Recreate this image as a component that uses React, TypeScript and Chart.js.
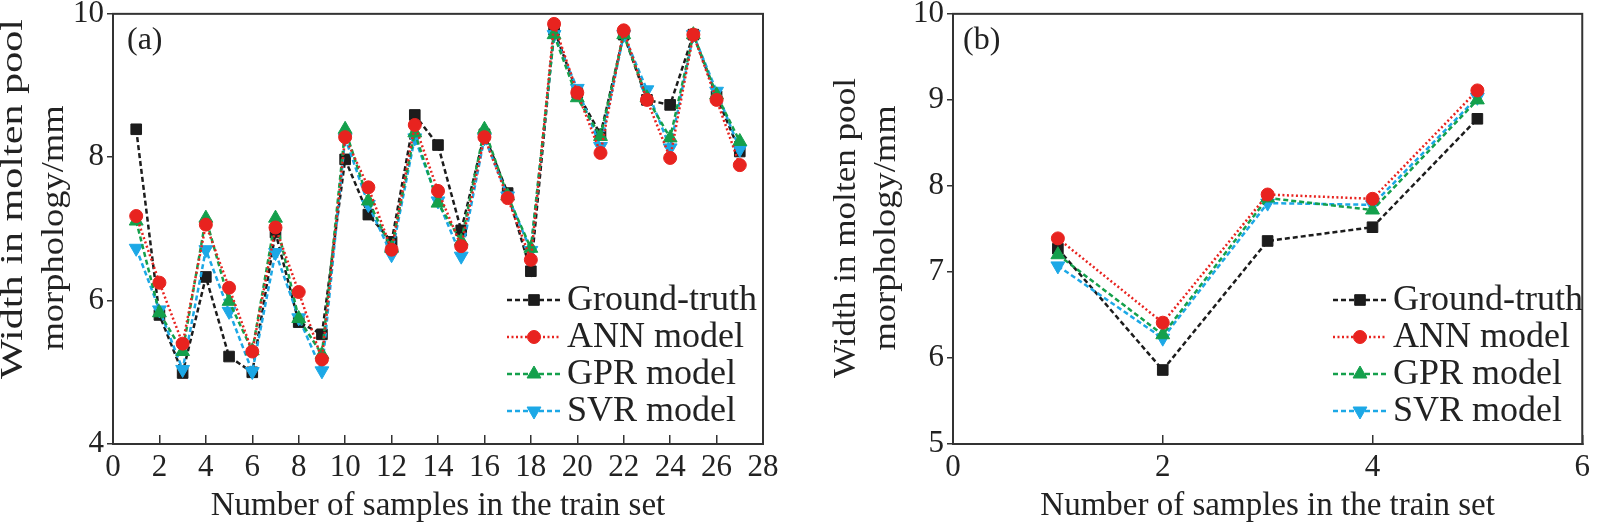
import { useEffect, useRef } from 'react'
import { Chart, registerables } from 'chart.js'

Chart.register(...registerables)

const SERIF = "'Liberation Serif', 'DejaVu Serif', serif"
const INK = '#222222'

// (a) train set
const samplesA = [1, 2, 3, 4, 5, 6, 7, 8, 9, 10, 11, 12, 13, 14, 15, 16, 17, 18, 19, 20, 21, 22, 23, 24, 25, 26, 27]
const truthA = [8.39, 5.8, 4.99, 6.33, 5.22, 5.0, 6.95, 5.7, 5.53, 7.97, 7.2, 6.82, 8.59, 8.17, 6.98, 8.32, 7.5, 6.41, 9.78, 8.9, 8.32, 9.71, 8.8, 8.73, 9.71, 8.85, 8.08]
const annA = [7.18, 6.25, 5.4, 7.06, 6.18, 5.29, 7.02, 6.12, 5.18, 8.28, 7.58, 6.71, 8.45, 7.53, 6.76, 8.28, 7.43, 6.57, 9.86, 8.9, 8.06, 9.77, 8.8, 7.99, 9.71, 8.8, 7.89]
const gprA = [7.11, 5.83, 5.29, 7.15, 5.99, 5.3, 7.15, 5.75, 5.25, 8.39, 7.39, 6.73, 8.34, 7.36, 6.83, 8.39, 7.46, 6.73, 9.71, 8.83, 8.29, 9.71, 8.83, 8.27, 9.71, 8.87, 8.22]
const svrA = [6.73, 5.87, 5.04, 6.71, 5.85, 5.01, 6.67, 5.76, 5.02, 8.27, 7.34, 6.64, 8.27, 7.39, 6.62, 8.27, 7.46, 6.7, 9.71, 8.96, 8.15, 9.71, 8.94, 8.13, 9.71, 8.92, 8.11]

// (b)
const samplesB = [1, 2, 3, 4, 5]
const truthB = [7.27, 5.86, 7.36, 7.52, 8.78]
const annB = [7.39, 6.41, 7.9, 7.85, 9.11]
const gprB = [7.2, 6.27, 7.86, 7.72, 9.0]
const svrB = [7.07, 6.23, 7.8, 7.78, 9.03]

const seriesNames = ['Ground-truth', 'ANN model', 'GPR model', 'SVR model']

const styles = [
  { color: '#1c1c1c', dash: [5, 3], point: 'rect', rotation: 0, radius: 7.5, order: 3 },
  { color: '#e8231f', dash: [2, 2.5], point: 'circle', rotation: 0, radius: 6.5, order: 0 },
  { color: '#14a04c', dash: [5, 3], point: 'triangle', rotation: 0, radius: 8, order: 1 },
  { color: '#1ca8e6', dash: [5, 3], point: 'triangle', rotation: 180, radius: 8, order: 2 },
]

interface PanelProps {
  tag: string
  xs: number[]
  series: number[][]
  xMax: number
  yMin: number
  yMax: number
  yStep: number
  width: number
  left: number
  padRight: number
  titleLines: { text: string; baseX: number; midY: number; len: number }[]
  legendX: number
  tagX: number
}

function drawMarker(ctx: CanvasRenderingContext2D, style: string, r: number, rot: number, x: number, y: number) {
  ctx.save()
  ctx.translate(x, y)
  ctx.rotate((rot * Math.PI) / 180)
  ctx.beginPath()
  if (style === 'rect') {
    const s = r * Math.SQRT1_2
    ctx.rect(-s, -s, 2 * s, 2 * s)
  } else if (style === 'circle') {
    ctx.arc(0, 0, r, 0, Math.PI * 2)
  } else {
    ctx.moveTo(0, -r)
    ctx.lineTo(r * Math.sin(Math.PI / 3), r * 0.5)
    ctx.lineTo(-r * Math.sin(Math.PI / 3), r * 0.5)
    ctx.closePath()
  }
  ctx.fill()
  ctx.stroke()
  ctx.restore()
}

function Panel(p: PanelProps) {
  const canvasRef = useRef<HTMLCanvasElement>(null)
  const chartRef = useRef<Chart | null>(null)

  useEffect(() => {
    if (!canvasRef.current) return
    if (chartRef.current) chartRef.current.destroy()

    const decor = {
      id: 'decor',
      afterDraw(chart: any) {
        const { ctx, chartArea: a } = chart
        ctx.save()
        // frame
        ctx.strokeStyle = '#333'
        ctx.lineWidth = 2
        ctx.setLineDash([])
        ctx.strokeRect(a.left, a.top, a.right - a.left, a.bottom - a.top)

        ctx.fillStyle = INK
        // y title, stretched along its length
        ctx.font = `31px ${SERIF}`
        p.titleLines.forEach((t) => {
          ctx.save()
          ctx.translate(t.baseX, t.midY)
          ctx.rotate(-Math.PI / 2)
          const w = ctx.measureText(t.text).width
          ctx.scale(t.len / w, 1)
          ctx.textAlign = 'center'
          ctx.textBaseline = 'alphabetic'
          ctx.fillText(t.text, 0, 0)
          ctx.restore()
        })

        // panel tag
        ctx.font = `32px ${SERIF}`
        ctx.textAlign = 'left'
        ctx.textBaseline = 'middle'
        ctx.fillText(p.tag, p.tagX, 41)

        // legend
        const rows = [300, 337, 374, 411]
        chart.data.datasets.forEach((ds: any, i: number) => {
          const y = rows[i]
          const s = styles[i]
          ctx.strokeStyle = s.color
          ctx.lineWidth = 2.5
          ctx.setLineDash(s.dash)
          ctx.beginPath()
          ctx.moveTo(p.legendX, y)
          ctx.lineTo(p.legendX + 53, y)
          ctx.stroke()
          ctx.setLineDash([])
          ctx.fillStyle = s.color
          ctx.strokeStyle = s.color
          ctx.lineWidth = 1
          drawMarker(ctx, s.point, s.radius, s.rotation, p.legendX + 27, y)
          ctx.fillStyle = INK
          ctx.font = `36px ${SERIF}`
          ctx.textAlign = 'left'
          ctx.textBaseline = 'middle'
          ctx.fillText(ds.label, p.legendX + 60, y + 1)
        })
        ctx.restore()
      },
    }

    chartRef.current = new Chart(canvasRef.current, {
      type: 'line',
      data: {
        datasets: p.series.map((vals, i) => ({
          label: seriesNames[i],
          data: vals.map((v, j) => ({ x: p.xs[j], y: v })),
          borderColor: styles[i].color,
          backgroundColor: styles[i].color,
          borderWidth: 2.5,
          borderDash: styles[i].dash,
          pointStyle: styles[i].point as any,
          pointRotation: styles[i].rotation,
          pointRadius: styles[i].radius,
          pointBorderWidth: 1,
          tension: 0,
          order: styles[i].order,
        })),
      },
      options: {
        animation: false,
        responsive: false,
        layout: { padding: { left: 0, top: 12, right: p.padRight, bottom: 0 } },
        plugins: { legend: { display: false }, tooltip: { enabled: false } },
        scales: {
          x: {
            type: 'linear',
            min: 0,
            max: p.xMax,
            afterFit: (s: any) => {
              s.height = 81
            },
            border: { display: true, color: '#333', width: 2 },
            grid: { drawOnChartArea: false, tickLength: -9, color: '#333', lineWidth: 1.5 },
            ticks: {
              stepSize: 2,
              padding: 20,
              color: INK,
              maxRotation: 0,
              font: { family: SERIF, size: 31, lineHeight: 0.8 },
            },
            title: {
              display: true,
              text: 'Number of samples in the train set',
              color: INK,
              font: { family: SERIF, size: 33, lineHeight: 0.8 },
              padding: { top: 0, bottom: 5 },
            },
          },
          y: {
            min: p.yMin,
            max: p.yMax,
            afterFit: (s: any) => {
              s.width = p.left
            },
            border: { display: true, color: '#333', width: 2 },
            grid: { drawOnChartArea: false, tickLength: 6, color: '#333', lineWidth: 1.5 },
            ticks: {
              stepSize: p.yStep,
              padding: 3,
              color: INK,
              font: { family: SERIF, size: 31, lineHeight: 0.7 },
            },
          },
        },
      },
      plugins: [decor],
    })

    return () => {
      if (chartRef.current) chartRef.current.destroy()
    }
  }, [p])

  return (
    <div style={{ width: p.width, height: 525 }}>
      <canvas ref={canvasRef} width={p.width} height={525} style={{ width: p.width, height: 525 }}></canvas>
    </div>
  )
}

const panelA: PanelProps = {
  tag: '(a)',
  xs: samplesA,
  series: [truthA, annA, gprA, svrA],
  xMax: 28,
  yMin: 4,
  yMax: 10,
  yStep: 2,
  width: 800,
  left: 113,
  padRight: 37,
  titleLines: [
    { text: 'Width in molten pool', baseX: 22, midY: 199, len: 360 },
    { text: 'morphology/mm', baseX: 63, midY: 228, len: 245 },
  ],
  legendX: 507,
  tagX: 127,
}

const panelB: PanelProps = {
  tag: '(b)',
  xs: samplesB,
  series: [truthB, annB, gprB, svrB],
  xMax: 6,
  yMin: 5,
  yMax: 10,
  yStep: 1,
  width: 810,
  left: 153,
  padRight: 8,
  titleLines: [
    { text: 'Width in molten pool', baseX: 55, midY: 228, len: 300 },
    { text: 'morphology/mm', baseX: 95, midY: 228, len: 245 },
  ],
  legendX: 533,
  tagX: 163,
}

export default function App() {
  return (
    <div style={{ position: 'absolute', left: 0, top: 0, width: 1610, height: 525, display: 'flex', background: '#fff' }}>
      <Panel {...panelA} />
      <Panel {...panelB} />
    </div>
  )
}
